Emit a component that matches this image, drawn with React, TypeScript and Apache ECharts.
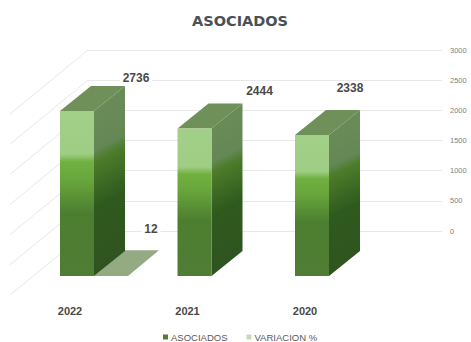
import React, { useEffect, useRef } from "react";
import * as echarts from "echarts";

const years = ["2022", "2021", "2020"];
const asociados = [2736, 2444, 2338];
const variacion = [12];
const yTicks = [0, 500, 1000, 1500, 2000, 2500, 3000];

// Hand-placed label offsets from the top-centre of each column
const labelShift: [number, number][] = [[59, -33], [65, -38], [38, -47]];
const variacionLabelShift: [number, number] = [23, -46];

const BAR_W = 34;
const DEPTH_X = 31;
const DEPTH_Y = -25;
const BAR_SHIFT = 7;

const TEXT = "#4a4a4a";
const font = "'Liberation Sans', Arial, sans-serif";

const frontFill = () =>
  new echarts.graphic.LinearGradient(0, 0, 0, 1, [
    { offset: 0, color: "#a2d088" },
    { offset: 0.26, color: "#9fcd84" },
    { offset: 0.31, color: "#70b040" },
    { offset: 0.42, color: "#68a63c" },
    { offset: 0.62, color: "#4c7e30" },
    { offset: 1, color: "#4f7d34" },
  ]);

const sideFill = () =>
  new echarts.graphic.LinearGradient(0, 0, 0.09, 1, [
    { offset: 0, color: "#6b8e58" },
    { offset: 0.34, color: "#648755" },
    { offset: 0.4, color: "#4d7c2a" },
    { offset: 0.64, color: "#2f5a1e" },
    { offset: 1, color: "#2f5320" },
  ]);

function App() {
  const ref = useRef<HTMLDivElement>(null);

  useEffect(() => {
    const chart = echarts.init(ref.current!, null, { renderer: "svg" });

    const valueLabel = (x: number, y: number, value: number) => ({
      type: "text",
      x,
      y,
      style: {
        text: String(value),
        fill: TEXT,
        font: `bold 12px ${font}`,
        align: "center",
        verticalAlign: "middle",
        backgroundColor: "#fff",
        padding: [1, 3],
      },
    });

    const renderColumn = (params: any, api: any) => {
      const value = api.value(1);
      const [cx, top] = api.coord([api.value(0), value]);
      const [, base] = api.coord([api.value(0), 0]);
      const left = cx + BAR_SHIFT - BAR_W / 2;
      const right = left + BAR_W;
      const [sx, sy] = labelShift[params.dataIndex];
      return {
        type: "group",
        children: [
          {
            type: "polygon",
            shape: { points: [[left, top], [right, top], [right + DEPTH_X, top + DEPTH_Y], [left + DEPTH_X, top + DEPTH_Y]] },
            style: { fill: "#6f9159" },
          },
          {
            type: "polygon",
            shape: { points: [[right, top], [right + DEPTH_X, top + DEPTH_Y], [right + DEPTH_X, base + DEPTH_Y], [right, base]] },
            style: { fill: sideFill() },
          },
          { type: "rect", shape: { x: left, y: top, width: BAR_W, height: base - top }, style: { fill: frontFill() } },
          valueLabel(cx + BAR_SHIFT + sx, top + sy, value),
        ],
      };
    };

    // The variation value is almost zero, so it reads as a flat plate on the floor
    const renderVariacion = (_params: any, api: any) => {
      const value = api.value(1);
      const [cx, top] = api.coord([api.value(0), value]);
      const [, base] = api.coord([api.value(0), 0]);
      const left = cx + BAR_SHIFT + BAR_W / 2;
      const right = left + BAR_W;
      return {
        type: "group",
        children: [
          {
            type: "polygon",
            shape: { points: [[left, base], [right, base], [right + DEPTH_X, top + DEPTH_Y], [left + DEPTH_X, top + DEPTH_Y]] },
            style: { fill: "#93aa83" },
          },
          valueLabel(right + variacionLabelShift[0], top + variacionLabelShift[1], value),
        ],
      };
    };

    // Gridlines continue toward the viewer along the left wall
    const renderWall = (params: any, api: any) => {
      const [, y] = api.coord([0, api.value(1)]);
      const edge = params.coordSys.x;
      return {
        type: "line",
        shape: { x1: edge, y1: y, x2: edge - 78, y2: y + 64 },
        style: { stroke: "#e8e8e8", lineWidth: 1 },
      };
    };

    chart.setOption({
      animation: false,
      backgroundColor: "#fff",
      title: {
        text: "ASOCIADOS",
        left: 187,
        top: 8,
        textStyle: { fontFamily: "'DejaVu Sans', sans-serif", fontSize: 14.5, fontWeight: "bold", color: "#4a5058" },
      },
      legend: {
        data: [
          { name: "ASOCIADOS", icon: "rect" },
          { name: "VARIACION %", icon: "rect" },
        ],
        left: 163,
        top: 332,
        itemWidth: 5,
        itemHeight: 5,
        itemGap: 19,
        padding: 0,
        textStyle: { fontFamily: font, fontSize: 9.5, color: "#595959", padding: [0, 0, 0, -2] },
      },
      grid: [
        { left: 88, right: 29, top: 50, height: 181 },
        { left: 11.25, width: 352.5, top: 95, height: 181 },
      ],
      xAxis: [
        { type: "category", gridIndex: 0, data: years, show: false },
        {
          type: "category",
          gridIndex: 1,
          data: years,
          axisLine: { show: false },
          axisTick: { show: false },
          axisLabel: { margin: 29, fontFamily: font, fontSize: 11, fontWeight: "bold", color: TEXT },
        },
      ],
      yAxis: [
        {
          type: "value",
          gridIndex: 0,
          position: "right",
          min: 0,
          max: 3000,
          interval: 500,
          axisLine: { show: false },
          axisTick: { show: false },
          axisLabel: { margin: 8, fontFamily: font, fontSize: 7.5, color: "#7f7f7f", formatter: (v: number) => String(v) },
          splitLine: { lineStyle: { color: "#e8e8e8", width: 1 } },
        },
        { type: "value", gridIndex: 1, min: 0, max: 3000, interval: 500, show: false },
      ],
      series: [
        {
          name: "wall",
          type: "custom",
          xAxisIndex: 0,
          yAxisIndex: 0,
          silent: true,
          renderItem: renderWall,
          data: yTicks.map((t) => [0, t]),
        },
        {
          name: "VARIACION %",
          type: "custom",
          xAxisIndex: 1,
          yAxisIndex: 1,
          silent: true,
          itemStyle: { color: "#c5dcb0" },
          renderItem: renderVariacion,
          data: variacion.map((v, i) => [i, v]),
        },
        {
          name: "ASOCIADOS",
          type: "custom",
          xAxisIndex: 1,
          yAxisIndex: 1,
          silent: true,
          itemStyle: { color: "#4f7f32" },
          renderItem: renderColumn,
          data: asociados.map((v, i) => [i, v]),
        },
      ],
    });

    return () => chart.dispose();
  }, []);

  return <div ref={ref} style={{ position: "fixed", left: 0, top: 0, width: 471, height: 342 }} />;
}

export default App;
